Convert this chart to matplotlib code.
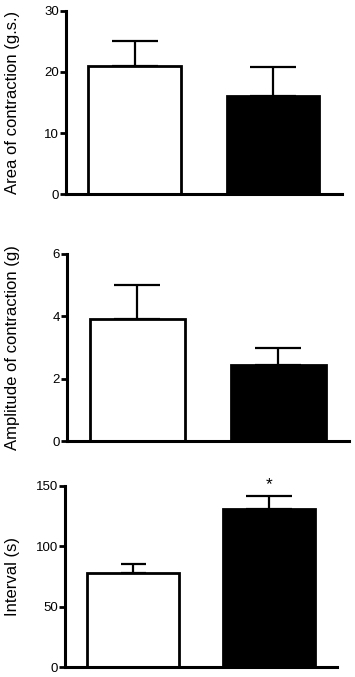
import matplotlib
matplotlib.use("Agg")
import matplotlib.pyplot as plt

plt.rcParams["font.family"] = ["Liberation Sans", "DejaVu Sans"]

groups = ["control", "treated"]
colors = ["white", "black"]

area = [21, 16]
area_err = [4.0, 4.8]

amplitude = [3.9, 2.45]
amplitude_err = [1.1, 0.55]

interval = [78, 131]
interval_err = [7.5, 10.7]

panels = [
    # (values, errors, ylabel, ylim, yticks, axes box in px (left, top, right, bottom), capsizes)
    (area, area_err, "Area of contraction (g.s.)", 30, [0, 10, 20, 30],
     (65.7, 10.7, 342, 194.3), [16.5, 16.5]),
    (amplitude, amplitude_err, "Amplitude of contraction (g)", 6, [0, 2, 4, 6],
     (66.7, 254, 349, 441), [16.5, 16.5]),
    (interval, interval_err, "Interval (s)", 150, [0, 50, 100, 150],
     (65, 485.7, 337, 667), [9, 16.5]),
]

W, H = 355, 677
fig = plt.figure(figsize=(W / 100, H / 100), dpi=100)

axes = []
for vals, errs, label, ymax, ticks, box, caps in panels:
    l, t, r, b = box
    ax = fig.add_axes([l / W, 1 - b / H, (r - l) / W, (b - t) / H])
    x = range(len(vals))
    for i in x:
        ax.errorbar(i, vals[i], yerr=[[0], [errs[i]]], fmt="none", ecolor="black",
                    elinewidth=1.6, capsize=caps[i], capthick=1.6, zorder=1)
    ax.bar(x, vals, width=0.67, color=colors, edgecolor="black", linewidth=2.0, zorder=2)
    ax.set_xlim(-0.5, 1.5)
    ax.set_ylim(0, ymax)
    ax.set_yticks(ticks)
    ax.set_xticks([])
    for s in ["top", "right"]:
        ax.spines[s].set_visible(False)
    for s in ["left", "bottom"]:
        ax.spines[s].set_linewidth(2.2)
    ax.tick_params(axis="y", direction="out", length=4.5, width=2.0, pad=0.5, labelsize=9.5)
    ax.set_ylabel(label, fontsize=12)
    ax.yaxis.set_label_coords((20.5 - l) / (r - l), 0.5)
    axes.append(ax)

# significance marker on treated interval
ax3 = axes[2]
ax3.annotate("*", (1, interval[1] + interval_err[1]), xytext=(0, 5),
             textcoords="offset points", ha="center", va="baseline",
             fontsize=12.5, annotation_clip=False)

fig.savefig("out.png", dpi=100)
